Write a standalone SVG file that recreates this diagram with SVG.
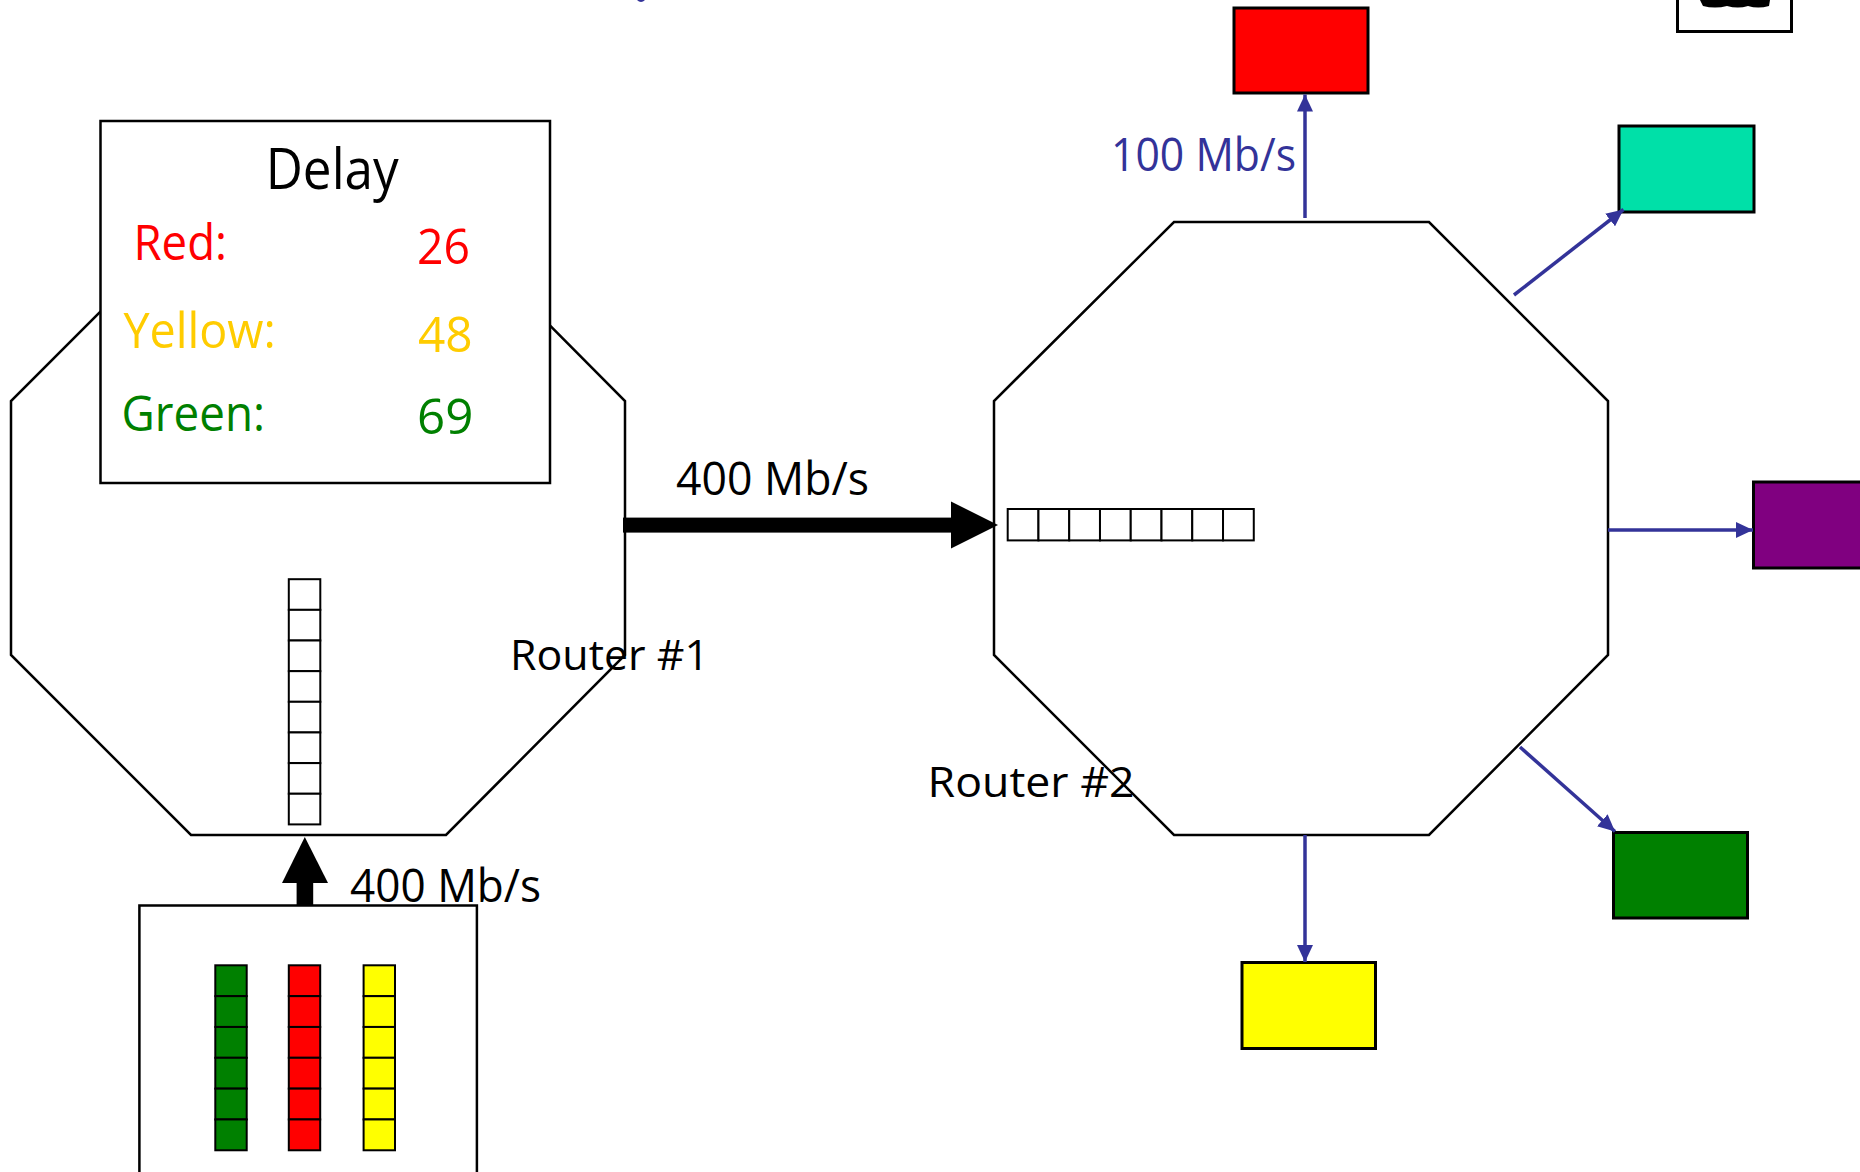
<svg xmlns="http://www.w3.org/2000/svg" width="1860" height="1172" viewBox="0 0 1860 1172">
<style>
.oct{fill:#fff;stroke:#000;stroke-width:2.5}
.box{stroke:#000;stroke-width:3}
.cell{stroke:#000;stroke-width:2}
.t{font-family:"Open Sans","Liberation Sans",sans-serif}
.blue{stroke:#333399;stroke-width:3.5;fill:none}
</style>
<defs>
<marker id="ah" markerUnits="userSpaceOnUse" markerWidth="17" markerHeight="16" refX="17" refY="8" orient="auto">
<path d="M0,0 L17,8 L0,16 z" fill="#333399"/>
</marker>
</defs>
<rect width="1860" height="1172" fill="#fff"/>
<path d="M637,0 Q641,4 645,0 z" fill="#333399"/>
<g id="corner-box">
<rect x="1677.5" y="-10" width="114" height="41.5" fill="#fff" stroke="#000" stroke-width="3"/>
<path d="M1700,0 L1770,0 L1769,6 Q1758,9 1748,6 Q1738,9 1727,6 Q1715,9 1703,6 z" fill="#000"/>
</g>
<g id="router1">
<polygon class="oct" points="191,221 446,221 625,401 625,655 446,835 191,835 11,655 11,401"/>
<g id="queue1">
<rect class="cell" fill="#fff" x="288.8" y="579.2" width="31.5" height="30.65"/>
<rect class="cell" fill="#fff" x="288.8" y="609.85" width="31.5" height="30.65"/>
<rect class="cell" fill="#fff" x="288.8" y="640.5" width="31.5" height="30.65"/>
<rect class="cell" fill="#fff" x="288.8" y="671.15" width="31.5" height="30.65"/>
<rect class="cell" fill="#fff" x="288.8" y="701.8" width="31.5" height="30.65"/>
<rect class="cell" fill="#fff" x="288.8" y="732.45" width="31.5" height="30.65"/>
<rect class="cell" fill="#fff" x="288.8" y="763.1" width="31.5" height="30.65"/>
<rect class="cell" fill="#fff" x="288.8" y="793.75" width="31.5" height="30.65"/>
</g>
<text class="t" x="510" y="670" font-size="42" textLength="199" lengthAdjust="spacingAndGlyphs" fill="#000">Router #1</text>
</g>
<g id="delay-box">
<rect x="100.5" y="121" width="449.5" height="362" fill="#fff" stroke="#000" stroke-width="2.5"/>
<text class="t" x="265.7" y="188.7" font-size="57" textLength="133" lengthAdjust="spacingAndGlyphs" fill="#000">Delay</text>
<text class="t" x="133.5" y="259.7" font-size="50" textLength="93.5" lengthAdjust="spacingAndGlyphs" fill="#ff0000">Red:</text>
<text class="t" x="417" y="264" font-size="50" textLength="53" lengthAdjust="spacingAndGlyphs" fill="#ff0000">26</text>
<text class="t" x="123.4" y="347.5" font-size="50" textLength="152.4" lengthAdjust="spacingAndGlyphs" fill="#ffcc00">Yellow:</text>
<text class="t" x="418" y="352" font-size="50" textLength="54.7" lengthAdjust="spacingAndGlyphs" fill="#ffcc00">48</text>
<text class="t" x="121.6" y="431" font-size="50" textLength="143.4" lengthAdjust="spacingAndGlyphs" fill="#008000">Green:</text>
<text class="t" x="417" y="433.5" font-size="50" textLength="56.3" lengthAdjust="spacingAndGlyphs" fill="#008000">69</text>
</g>
<g id="source">
<rect x="139.4" y="905.5" width="337.5" height="300" fill="#fff" stroke="#000" stroke-width="2.5"/>
<g id="queue-green" fill="#008000">
<rect class="cell" x="215.3" y="965.3" width="31.4" height="30.83"/>
<rect class="cell" x="215.3" y="996.13" width="31.4" height="30.83"/>
<rect class="cell" x="215.3" y="1026.96" width="31.4" height="30.83"/>
<rect class="cell" x="215.3" y="1057.79" width="31.4" height="30.83"/>
<rect class="cell" x="215.3" y="1088.62" width="31.4" height="30.83"/>
<rect class="cell" x="215.3" y="1119.45" width="31.4" height="30.83"/>
</g>
<g id="queue-red" fill="#ff0000">
<rect class="cell" x="288.8" y="965.3" width="31.4" height="30.83"/>
<rect class="cell" x="288.8" y="996.13" width="31.4" height="30.83"/>
<rect class="cell" x="288.8" y="1026.96" width="31.4" height="30.83"/>
<rect class="cell" x="288.8" y="1057.79" width="31.4" height="30.83"/>
<rect class="cell" x="288.8" y="1088.62" width="31.4" height="30.83"/>
<rect class="cell" x="288.8" y="1119.45" width="31.4" height="30.83"/>
</g>
<g id="queue-yellow" fill="#ffff00">
<rect class="cell" x="363.6" y="965.3" width="31.4" height="30.83"/>
<rect class="cell" x="363.6" y="996.13" width="31.4" height="30.83"/>
<rect class="cell" x="363.6" y="1026.96" width="31.4" height="30.83"/>
<rect class="cell" x="363.6" y="1057.79" width="31.4" height="30.83"/>
<rect class="cell" x="363.6" y="1088.62" width="31.4" height="30.83"/>
<rect class="cell" x="363.6" y="1119.45" width="31.4" height="30.83"/>
</g>
</g>
<g id="router2">
<polygon class="oct" points="1174,222 1429,222 1608,401 1608,655 1429,835 1174,835 994,655 994,401"/>
<g id="queue2" fill="#fff">
<rect class="cell" x="1007.7" y="509" width="30.76" height="31.4"/>
<rect class="cell" x="1038.46" y="509" width="30.76" height="31.4"/>
<rect class="cell" x="1069.22" y="509" width="30.76" height="31.4"/>
<rect class="cell" x="1099.98" y="509" width="30.76" height="31.4"/>
<rect class="cell" x="1130.74" y="509" width="30.76" height="31.4"/>
<rect class="cell" x="1161.5" y="509" width="30.76" height="31.4"/>
<rect class="cell" x="1192.26" y="509" width="30.76" height="31.4"/>
<rect class="cell" x="1223.02" y="509" width="30.76" height="31.4"/>
</g>
<text class="t" x="927.6" y="797" font-size="42" textLength="207" lengthAdjust="spacingAndGlyphs" fill="#000">Router #2</text>
</g>
<g id="host-red"><rect class="box" x="1234" y="8" width="134" height="85" fill="#ff0000"/></g>
<g id="host-teal"><rect class="box" x="1619" y="126" width="135" height="86" fill="#00e0a8"/></g>
<g id="host-purple"><rect class="box" x="1753.5" y="482" width="134" height="86" fill="#800080"/></g>
<g id="host-green"><rect class="box" x="1613.5" y="832.5" width="134" height="85.5" fill="#008000"/></g>
<g id="host-yellow"><rect class="box" x="1242" y="962.5" width="133.5" height="86" fill="#ffff00"/></g>
<g id="connectors">
<rect x="623" y="517.6" width="328" height="15" fill="#000"/>
<polygon points="951,501.5 998,525 951,548.6" fill="#000"/>
<rect x="296.6" y="882" width="16.6" height="23" fill="#000"/>
<polygon points="282,883 328,883 304.8,837" fill="#000"/>
<line class="blue" x1="1305" y1="218" x2="1305" y2="94.5" marker-end="url(#ah)"/>
<line class="blue" x1="1514" y1="295" x2="1623.5" y2="209.5" marker-end="url(#ah)"/>
<line class="blue" x1="1608" y1="530" x2="1753" y2="530" marker-end="url(#ah)"/>
<line class="blue" x1="1520" y1="747" x2="1615" y2="831.5" marker-end="url(#ah)"/>
<line class="blue" x1="1305" y1="835" x2="1305" y2="962" marker-end="url(#ah)"/>
</g>
<g id="labels">
<text class="t" x="676" y="495" font-size="45" textLength="193" lengthAdjust="spacingAndGlyphs" fill="#000">400 Mb/s</text>
<text class="t" x="350" y="901.8" font-size="45" textLength="191" lengthAdjust="spacingAndGlyphs" fill="#000">400 Mb/s</text>
<text class="t" x="1111" y="171" font-size="45" textLength="185" lengthAdjust="spacingAndGlyphs" fill="#333399">100 Mb/s</text>
</g>
</svg>
